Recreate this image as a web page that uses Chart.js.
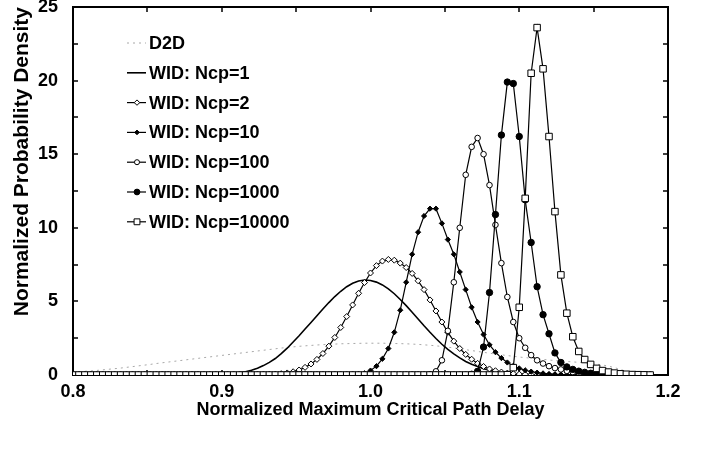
<!DOCTYPE html>
<html>
<head>
<meta charset="utf-8">
<script src="https://cdn.jsdelivr.net/npm/chart.js@4.4.1/dist/chart.umd.min.js"></script>
<style>
  html, body { margin: 0; padding: 0; background: #fff; }
  canvas { display: block; }
</style>
</head>
<body>
<canvas id="mycanvas1" width="703" height="449"></canvas>
<script>
// normalized max critical path delay (x), one value every 0.004
var delay = [
  0.800,0.804,0.808,0.812,0.816,0.820,0.824,0.828,0.832,0.836,
  0.840,0.844,0.848,0.852,0.856,0.860,0.864,0.868,0.872,0.876,
  0.880,0.884,0.888,0.892,0.896,0.900,0.904,0.908,0.912,0.916,
  0.920,0.924,0.928,0.932,0.936,0.940,0.944,0.948,0.952,0.956,
  0.960,0.964,0.968,0.972,0.976,0.980,0.984,0.988,0.992,0.996,
  1.000,1.004,1.008,1.012,1.016,1.020,1.024,1.028,1.032,1.036,
  1.040,1.044,1.048,1.052,1.056,1.060,1.064,1.068,1.072,1.076,
  1.080,1.084,1.088,1.092,1.096,1.100,1.104,1.108,1.112,1.116,
  1.120,1.124,1.128,1.132,1.136,1.140,1.144,1.148,1.152,1.156,
  1.160,1.164,1.168,1.172,1.176,1.180,1.184,1.188
];

var d2d = [
  0.2,0.22,0.25,0.28,0.31,0.35,0.39,0.43,0.47,0.52,
  0.57,0.62,0.67,0.72,0.78,0.83,0.88,0.93,0.98,1.03,
  1.08,1.13,1.18,1.23,1.28,1.33,1.38,1.43,1.48,1.53,
  1.58,1.63,1.68,1.73,1.78,1.83,1.87,1.91,1.95,1.98,
  2.01,2.04,2.06,2.08,2.10,2.12,2.13,2.14,2.15,2.16,
  2.16,2.16,2.16,2.15,2.14,2.13,2.12,2.10,2.08,2.05,
  2.02,1.98,1.94,1.89,1.84,1.78,1.72,1.66,1.60,1.54,
  1.48,1.42,1.37,1.32,1.27,1.22,1.18,1.14,1.10,1.06,
  1.02,0.98,0.95,0.92,0.89,0.86,0.83,0.79,0.74,0.68,
  0.6,0.5,0.38,0.25,0.14,0.06,0.02,0
];

var ncp1 = [
  0,0,0,0,0,0,0,0,0,0,
  0,0,0,0,0,0,0,0,0,0,
  0.01,0.01,0.02,0.03,0.04,0.06,0.09,0.12,0.16,0.22,
  0.32,0.46,0.64,0.86,1.12,1.45,1.82,2.24,2.67,3.12,
  3.57,4.03,4.48,4.92,5.33,5.69,6.00,6.23,6.38,6.45,
  6.42,6.31,6.12,5.85,5.52,5.13,4.71,4.26,3.80,3.34,
  2.90,2.48,2.09,1.74,1.43,1.16,0.92,0.73,0.57,0.43,
  0.33,0.24,0.18,0.13,0.09,0.07,0.05,0.03,0.02,0.01,
  0,0,0,0,0,0,0,0,0,0,
  0,0,0,0,0,0,0,0
];

var ncp2 = [
  0,0,0,0,0,0,0,0,0,0,
  0,0,0,0,0,0,0,0,0,0,
  0,0,0,0,0,0,0,0,0,0,
  0,0.01,0.02,0.03,0.05,0.09,0.14,0.22,0.34,0.52,
  0.75,1.06,1.46,1.96,2.55,3.23,3.97,4.76,5.55,6.28,
  6.93,7.43,7.74,7.85,7.8,7.6,7.3,6.9,6.4,5.8,
  5.1,4.35,3.6,2.9,2.3,1.8,1.4,1.07,0.79,0.58,
  0.41,0.29,0.2,0.13,0.09,0.06,0.04,0.02,0.01,0,
  0,0,0,0,0,0,0,0,0,0,
  0,0,0,0,0,0,0,0
];

var ncp10 = [
  0,0,0,0,0,0,0,0,0,0,
  0,0,0,0,0,0,0,0,0,0,
  0,0,0,0,0,0,0,0,0,0,
  0,0,0,0,0,0,0,0,0,0,
  0,0,0,0,0,0,0,0.02,0.05,0.12,
  0.3,0.6,1.1,1.8,2.9,4.4,6.3,8.2,9.7,10.8,
  11.3,11.3,10.3,9.2,8.2,7.0,5.8,4.6,3.6,2.75,
  2.05,1.55,1.15,0.85,0.62,0.45,0.32,0.23,0.16,0.11,
  0.07,0.05,0.03,0.02,0.01,0,0,0,0,0,
  0,0,0,0,0,0,0,0
];

var ncp100 = [
  0,0,0,0,0,0,0,0,0,0,
  0,0,0,0,0,0,0,0,0,0,
  0,0,0,0,0,0,0,0,0,0,
  0,0,0,0,0,0,0,0,0,0,
  0,0,0,0,0,0,0,0,0,0,
  0,0,0,0,0,0,0,0,0,0,
  0.05,0.25,1.0,3.0,6.3,10.0,13.6,15.5,16.1,15.0,
  12.9,10.2,7.6,5.3,3.6,2.5,1.85,1.35,1.0,0.78,
  0.6,0.47,0.38,0.28,0.2,0.13,0.08,0.05,0.03,0.02,
  0.01,0,0,0,0,0,0,0
];

var ncp1000 = [
  0,0,0,0,0,0,0,0,0,0,
  0,0,0,0,0,0,0,0,0,0,
  0,0,0,0,0,0,0,0,0,0,
  0,0,0,0,0,0,0,0,0,0,
  0,0,0,0,0,0,0,0,0,0,
  0,0,0,0,0,0,0,0,0,0,
  0,0,0,0,0,0,0,0.05,0.25,1.9,
  5.6,10.9,16.3,19.9,19.8,16.2,11.9,9.0,6.0,4.1,
  2.8,1.5,0.85,0.55,0.38,0.26,0.18,0.12,0.08,0.05,
  0.03,0.02,0.01,0,0,0,0,0
];

var ncp10000 = [
  0,0,0,0,0,0,0,0,0,0,
  0,0,0,0,0,0,0,0,0,0,
  0,0,0,0,0,0,0,0,0,0,
  0,0,0,0,0,0,0,0,0,0,
  0,0,0,0,0,0,0,0,0,0,
  0,0,0,0,0,0,0,0,0,0,
  0,0,0,0,0,0,0,0,0,0,
  0,0,0,0.02,0.5,4.6,12.0,20.5,23.6,20.8,
  16.2,11.1,6.8,4.2,2.6,1.6,1.05,0.72,0.45,0.3,
  0.2,0.13,0.08,0.05,0.03,0.02,0.01,0
];

var seriesNames = ["D2D", "WID: Ncp=1", "WID: Ncp=2", "WID: Ncp=10", "WID: Ncp=100", "WID: Ncp=1000", "WID: Ncp=10000"];
var xTicks = [0.8, 0.9, 1.0, 1.1, 1.2];
var yTicks = [0, 5, 10, 15, 20, 25];

var FONT = '"Liberation Sans", Arial, sans-serif';

function pts(vals) {
  var out = [];
  for (var i = 0; i < vals.length; i++) out.push({x: delay[i], y: vals[i]});
  return out;
}

var datasets = [
  {label: seriesNames[0], data: pts(d2d), borderColor: '#a8a8a8', borderWidth: 1, borderDash: [2, 4],
   pointRadius: 0, order: 6},
  {label: seriesNames[1], data: pts(ncp1), borderColor: '#000', borderWidth: 1.6,
   pointRadius: 0, order: 5},
  {label: seriesNames[2], data: pts(ncp2), borderColor: '#000', borderWidth: 1.2,
   pointStyle: 'rectRot', pointRadius: 3, pointBackgroundColor: '#fff', pointBorderColor: '#000', pointBorderWidth: 1, order: 4},
  {label: seriesNames[3], data: pts(ncp10), borderColor: '#000', borderWidth: 1.2,
   pointStyle: 'rectRot', pointRadius: 2.6, pointBackgroundColor: '#000', pointBorderColor: '#000', pointBorderWidth: 1, order: 3},
  {label: seriesNames[4], data: pts(ncp100), borderColor: '#000', borderWidth: 1.2,
   pointStyle: 'circle', pointRadius: 2.8, pointBackgroundColor: '#fff', pointBorderColor: '#000', pointBorderWidth: 1, order: 2},
  {label: seriesNames[5], data: pts(ncp1000), borderColor: '#000', borderWidth: 1.2,
   pointStyle: 'circle', pointRadius: 3.2, pointBackgroundColor: '#000', pointBorderColor: '#000', pointBorderWidth: 1, order: 1},
  {label: seriesNames[6], data: pts(ncp10000), borderColor: '#000', borderWidth: 1.2,
   pointStyle: 'rect', pointRadius: 4.6, pointBackgroundColor: '#fff', pointBorderColor: '#000', pointBorderWidth: 1, order: 0}
];
datasets.forEach(function(d) { d.fill = false; d.tension = 0; d.pointHoverRadius = d.pointRadius; });

// frame with small inward ticks, drawn before the curves
var framePlugin = {
  id: 'frame',
  beforeDatasetsDraw: function(chart) {
    var ctx = chart.ctx, a = chart.chartArea;
    var xs = chart.scales.x, ys = chart.scales.y;
    ctx.save();
    ctx.strokeStyle = '#000';
    ctx.lineWidth = 2;
    ctx.strokeRect(a.left, a.top, a.right - a.left, a.bottom - a.top);
    ctx.lineWidth = 1.5;
    ctx.beginPath();
    for (var v = 0.8; v <= 1.2001; v += 0.05) {
      var px = Math.round(xs.getPixelForValue(v));
      ctx.moveTo(px, a.bottom); ctx.lineTo(px, a.bottom - 5);
      ctx.moveTo(px, a.top); ctx.lineTo(px, a.top + 5);
    }
    for (var w = 0; w <= 25; w += 2.5) {
      var py = Math.round(ys.getPixelForValue(w));
      ctx.moveTo(a.left, py); ctx.lineTo(a.left + 5, py);
      ctx.moveTo(a.right, py); ctx.lineTo(a.right - 5, py);
    }
    ctx.stroke();
    ctx.restore();
  }
};

// legend in the upper left: short line with the marker in the middle
var legendPlugin = {
  id: 'innerLegend',
  afterDraw: function(chart) {
    var ctx = chart.ctx;
    ctx.save();
    chart.data.datasets.forEach(function(ds, i) {
      var y = 43 + i * 29.8;
      ctx.strokeStyle = ds.borderColor;
      ctx.lineWidth = ds.borderWidth;
      ctx.setLineDash(ds.borderDash || []);
      ctx.beginPath();
      ctx.moveTo(127, y); ctx.lineTo(146, y);
      ctx.stroke();
      ctx.setLineDash([]);
      if (ds.pointRadius > 0) {
        ctx.fillStyle = ds.pointBackgroundColor;
        ctx.strokeStyle = ds.pointBorderColor;
        ctx.lineWidth = 1;
        Chart.helpers.drawPoint(ctx, {pointStyle: ds.pointStyle, radius: ds.pointRadius * 0.9, borderWidth: 1, rotation: 0}, 137, y);
      }
      ctx.fillStyle = '#000';
      ctx.font = 'bold 18px ' + FONT;
      ctx.textBaseline = 'middle';
      ctx.textAlign = 'left';
      ctx.fillText(ds.label, 149, y + 1);
    });
    ctx.restore();
  }
};

var ctx = document.getElementById('mycanvas1');
var chart = new Chart(ctx, {
  type: 'line',
  data: {datasets: datasets},
  plugins: [framePlugin, legendPlugin],
  options: {
    responsive: false,
    animation: false,
    devicePixelRatio: 1,
    layout: {padding: {top: 7, right: 35, left: 0, bottom: 0}},
    plugins: {legend: {display: false}, tooltip: {enabled: false}},
    scales: {
      x: {
        type: 'linear', min: 0.8, max: 1.2,
        afterFit: function(s) { s.height = 74; },
        afterBuildTicks: function(s) { s.ticks = xTicks.map(function(v) { return {value: v}; }); },
        ticks: {color: '#000', padding: 0, font: {family: FONT, size: 18, weight: 'bold', lineHeight: 0.7},
                callback: function(v) { return Number(v).toFixed(1); }},
        grid: {display: false, drawTicks: true, tickLength: 11},
        border: {display: false},
        title: {display: true, text: 'Normalized Maximum Critical Path Delay', color: '#000',
                font: {family: FONT, size: 18, weight: 'bold'}, padding: {top: 4, bottom: 28}}
      },
      y: {
        type: 'linear', min: 0, max: 25,
        afterFit: function(s) { s.width = 73; },
        afterBuildTicks: function(s) { s.ticks = yTicks.map(function(v) { return {value: v}; }); },
        ticks: {color: '#000', padding: 0, font: {family: FONT, size: 18, weight: 'bold', lineHeight: 0.7}},
        grid: {display: false, drawTicks: true, tickLength: 15},
        border: {display: false},
        title: {display: true, text: 'Normalized Probability Density', color: '#000', align: 'end',
                font: {family: FONT, size: 21, weight: 'bold'}, padding: {top: 10, bottom: 4}}
      }
    }
  }
});
</script>
</body>
</html>
